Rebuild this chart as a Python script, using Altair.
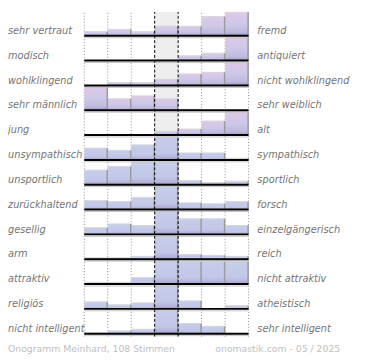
import altair as alt
import pandas as pd

left_labels = ["sehr vertraut", "modisch", "wohlklingend", "sehr männlich", "jung",
               "unsympathisch", "unsportlich", "zurückhaltend", "gesellig", "arm",
               "attraktiv", "religiös", "nicht intelligent"]
right_labels = ["fremd", "antiquiert", "nicht wohlklingend", "sehr weiblich", "alt",
                "sympathisch", "sportlich", "forsch", "einzelgängerisch", "reich",
                "nicht attraktiv", "atheistisch", "sehr intelligent"]
heights = [
    [4.3, 6.7, 4.3, 10.0, 10.0, 20.0, 24.5],
    [0.0, 0.0, 0.0, 0.7, 5.0, 7.7, 24.5],
    [0.0, 3.0, 3.0, 6.3, 12.0, 13.7, 24.5],
    [24.5, 12.0, 15.0, 12.0, 1.0, 0.0, 0.0],
    [0.0, 0.0, 0.0, 4.0, 6.3, 14.7, 24.5],
    [12.3, 10.0, 15.7, 24.3, 7.3, 7.3, 1.7],
    [15.3, 19.0, 24.5, 24.5, 4.3, 2.3, 3.7],
    [9.3, 8.3, 12.7, 24.7, 7.0, 6.0, 8.3],
    [7.0, 11.0, 9.3, 24.7, 16.3, 16.3, 9.3],
    [1.5, 1.5, 3.0, 24.5, 5.0, 4.0, 3.0],
    [1.7, 1.7, 6.7, 24.5, 23.3, 23.3, 23.3],
    [7.3, 4.3, 6.3, 24.5, 8.3, 0.0, 3.3],
    [0.7, 3.0, 4.7, 24.5, 10.7, 7.7, 0.0],
]
footer_left = "Onogramm Meinhard, 108 Stimmen"
footer_right = "onomastik.com - 05 / 2025"

N_COLS = 7
PITCH = 26
TOP = 340
PW, PH = 168, 332

rows = []
for r, hs in enumerate(heights):
    base = TOP - 25 - PITCH * r
    for c, h in enumerate(hs):
        rows.append(dict(row=r, c0=c, c1=c + 1, base=base, top=base + h, h=h,
                         grp="pink" if r < 5 else "blue"))
bars = pd.DataFrame(rows)

lab = pd.DataFrame(dict(
    row=list(range(len(left_labels))),
    left=left_labels, right=right_labels,
    base=[TOP - 25 - PITCH * r for r in range(len(left_labels))],
))
lab["ty"] = lab["base"] + 5

vlines = pd.DataFrame(dict(pos=list(range(N_COLS + 1))))
vlines["kind"] = ["dash" if p in (3, 4) else "dot" for p in vlines["pos"]]

xs = alt.Scale(domain=[0, N_COLS], nice=False, zero=False)
ys = alt.Scale(domain=[0, TOP], nice=False, zero=False)

band = alt.Chart(pd.DataFrame({"c0": [3], "c1": [4]})).mark_rect(color="#eeeeee").encode(
    x=alt.X("c0:Q", scale=xs, axis=None), x2="c1:Q",
    y=alt.Y(datum=0, scale=ys, axis=None), y2=alt.Y2(datum=TOP))

dots = alt.Chart(vlines).transform_filter("datum.kind == 'dot'").mark_rule(
    color="#8c8c8c", strokeWidth=1, strokeDash=[1, 2]).encode(
    x=alt.X("pos:Q", scale=xs, axis=None),
    y=alt.Y(datum=0, scale=ys, axis=None), y2=alt.Y2(datum=TOP))

dashes = alt.Chart(vlines).transform_filter("datum.kind == 'dash'").mark_rule(
    color="#000000", strokeWidth=1, strokeDash=[3, 2]).encode(
    x=alt.X("pos:Q", scale=xs, axis=None),
    y=alt.Y(datum=0, scale=ys, axis=None), y2=alt.Y2(datum=TOP))

pink = alt.Gradient(gradient="linear", x1=0, x2=0, y1=0, y2=1, stops=[
    alt.GradientStop(color="#dfc8e7", offset=0),
    alt.GradientStop(color="#cdc8e8", offset=0.5),
    alt.GradientStop(color="#bdbade", offset=0.85),
    alt.GradientStop(color="#9d94c6", offset=1)])
blue = alt.Gradient(gradient="linear", x1=0, x2=0, y1=0, y2=1, stops=[
    alt.GradientStop(color="#c6cdea", offset=0),
    alt.GradientStop(color="#c2c7e7", offset=0.7),
    alt.GradientStop(color="#b3b0da", offset=0.9),
    alt.GradientStop(color="#9d94c6", offset=1)])

def bar_layer(grp, fill):
    return alt.Chart(bars).transform_filter(
        f"datum.h > 0 && datum.grp == '{grp}'").mark_rect(fill=fill).encode(
        x=alt.X("c0:Q", scale=xs, axis=None), x2="c1:Q",
        y=alt.Y("base:Q", scale=ys, axis=None), y2="top:Q")

bars_pink = bar_layer("pink", pink)
bars_blue = bar_layer("blue", blue)

tops = alt.Chart(bars).transform_filter("datum.h > 0").mark_rule(
    color="#d6d6d6", strokeWidth=1).encode(
    x=alt.X("c0:Q", scale=xs, axis=None), x2="c1:Q",
    y=alt.Y("top:Q", scale=ys, axis=None))

edges = alt.Chart(bars).transform_filter("datum.h > 0").mark_rule(
    color="#9a9a9a", strokeWidth=1.5, xOffset=-0.5).encode(
    x=alt.X("c1:Q", scale=xs, axis=None),
    y=alt.Y("base:Q", scale=ys, axis=None), y2="top:Q")

shadow = alt.Chart(lab).mark_rule(color="#c4c4c4", strokeWidth=1, yOffset=2).encode(
    x=alt.X(datum=0, scale=xs, axis=None), x2=alt.X2(datum=N_COLS),
    y=alt.Y("base:Q", scale=ys, axis=None))

baselines = alt.Chart(lab).mark_rule(color="#000000", strokeWidth=2).encode(
    x=alt.X(datum=0, scale=xs, axis=None), x2=alt.X2(datum=N_COLS),
    y=alt.Y("base:Q", scale=ys, axis=None))

txt = dict(font="DejaVu Sans", fontSize=10, fontStyle="italic", color="#757575",
           align="left", baseline="middle")
left_t = alt.Chart(lab).mark_text(**txt).encode(
    x=alt.value(-78), y=alt.Y("ty:Q", scale=ys, axis=None), text="left:N")
right_t = alt.Chart(lab).mark_text(**txt).encode(
    x=alt.value(PW + 9), y=alt.Y("ty:Q", scale=ys, axis=None), text="right:N")

foot = pd.DataFrame(dict(a=[footer_left], b=[footer_right]))
ftxt = dict(font="DejaVu Sans", fontSize=9.5, color="#c0c0c0", align="left", baseline="middle")
foot_l = alt.Chart(foot).mark_text(**ftxt).encode(x=alt.value(-78), y=alt.value(345), text="a:N")
foot_r = alt.Chart(foot).mark_text(**ftxt).encode(x=alt.value(134), y=alt.value(345), text="b:N")

chart = alt.layer(band, dots, bars_pink, bars_blue, tops, edges, shadow, baselines, dashes,
                  left_t, right_t, foot_l, foot_r).properties(
    width=PW, height=PH, autosize="none",
    padding={"left": 78, "top": 0, "right": 116, "bottom": 20},
).configure_view(stroke="transparent")

chart.save("out.html", embed_options={"renderer": "svg", "actions": False})
